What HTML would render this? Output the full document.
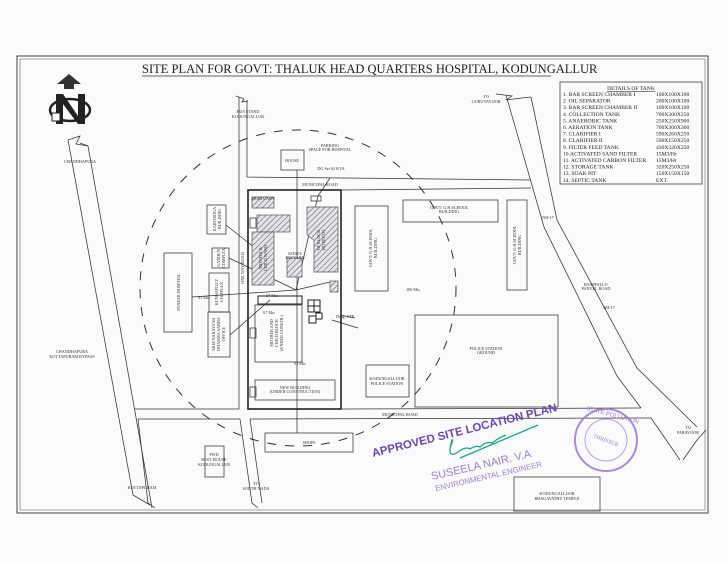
<!DOCTYPE html>
<html><head><meta charset="utf-8"><style>
html,body{margin:0;padding:0;background:#fbfafd;}
svg{display:block;font-family:"Liberation Serif",serif;}
</style></head><body>
<svg width="728" height="563" viewBox="0 0 728 563" xmlns="http://www.w3.org/2000/svg">
<defs>
<pattern id="h" width="4" height="4" patternUnits="userSpaceOnUse" patternTransform="rotate(45)">
<rect width="4" height="4" fill="#e4e4e8"/><line x1="0" y1="0" x2="0" y2="4" stroke="#666" stroke-width="1.2"/></pattern>
</defs>
<rect width="728" height="563" fill="#fbfafd"/>
<rect x="17" y="56" width="691" height="457" fill="none" stroke="#444" stroke-width="1"/>
<rect x="20" y="59" width="685" height="451" fill="none" stroke="#666" stroke-width="0.6"/>
<text x="142" y="73" font-size="12.5" fill="#222">SITE PLAN FOR GOVT: THALUK HEAD QUARTERS HOSPITAL, KODUNGALLUR</text>
<line x1="142" y1="76" x2="551" y2="76" stroke="#333" stroke-width="0.8"/>
<polygon points="69,74 57,84 64,84 64,89 74,89 74,84 81,84" fill="#333"/>
<ellipse cx="70" cy="110" rx="20" ry="11" fill="none" stroke="#222" stroke-width="2.5"/>
<polygon points="56,94 63,94 78,116 78,94 85,94 85,124 78,124 63,104 63,124 56,124" fill="#222"/>
<rect x="52" y="113" width="8" height="8" fill="#fff" stroke="#222"/>
<circle cx="298" cy="288" r="158" fill="none" stroke="#333" stroke-width="1" stroke-dasharray="9,9"/>
<g fill="none" stroke="#333" stroke-width="0.75">
<polyline points="68,140 133,495 150,505"/>
<polyline points="80,143 88,146 152,508"/>
<polyline points="68,140 80,136 76,144 88,146"/>
<polyline points="239,97 239,409 135,409"/>
<polyline points="247,100 247,177 530,180"/>
<polyline points="236,96 244,99 242,102 248,101"/>
<polyline points="250,190 340,190"/>
<polyline points="342,190 531,188"/>
<polyline points="138,419 148,503 155,508"/>
<polyline points="240,419 252,503 258,508"/>
<polyline points="250,419 262,503"/>
<polyline points="138,419 240,419"/>
<polyline points="250,419 651,418 680,460"/>
<polyline points="342,409 641,408"/>
<polyline points="506,95 544,227 617,376 641,408"/>
<polyline points="531,97 557,220 637,368 697,427"/>
<polyline points="496,94 512,96 506,100 522,98 531,97"/>
<polyline points="683,460 697,440 706,430"/>
<rect x="281" y="150" width="23" height="20"/>
<rect x="355" y="206" width="33" height="85"/>
<rect x="403" y="200" width="95" height="22"/>
<rect x="507" y="200" width="20" height="90"/>
<rect x="415" y="315" width="143" height="92"/>
<rect x="366" y="365" width="43" height="32"/>
<rect x="514" y="477" width="86" height="34"/>
<rect x="265" y="433" width="88" height="19"/>
<rect x="205" y="446" width="19" height="31"/>
<rect x="164" y="253" width="28" height="79"/>
<rect x="207" y="205" width="19" height="29"/>
<rect x="212" y="248" width="17" height="20"/>
<rect x="209" y="273" width="20" height="39"/>
<rect x="208" y="312" width="22" height="45"/>
<rect x="560" y="82" width="142" height="102"/>
<rect x="255" y="305" width="47" height="57"/>
<rect x="255" y="380" width="80" height="20"/>
<rect x="250" y="218" width="6" height="10"/>
<rect x="250" y="328" width="6" height="10"/>
<rect x="250" y="387" width="6" height="10"/>
<rect x="311" y="196" width="10" height="5"/>
<line x1="226" y1="225" x2="270" y2="260"/>
<line x1="229" y1="258" x2="296" y2="290"/>
<line x1="192" y1="297" x2="296" y2="290"/>
<line x1="230" y1="335" x2="270" y2="300"/>
<line x1="297" y1="170" x2="297" y2="433"/>
<line x1="296" y1="290" x2="318" y2="196"/>
<line x1="296" y1="290" x2="330" y2="282"/>
<line x1="340" y1="315" x2="355" y2="318"/>
<line x1="332" y1="320" x2="358" y2="328"/>
<line x1="318" y1="196" x2="330" y2="178"/>
</g>
<rect x="248" y="190" width="93" height="219" fill="none" stroke="#222" stroke-width="1.6"/>
<g stroke="#555" stroke-width="0.7">
<rect x="252" y="197" width="22" height="11" fill="url(#h)"/>
<rect x="257" y="215" width="33" height="17" fill="url(#h)"/>
<rect x="252" y="232" width="22" height="53" fill="url(#h)"/>
<rect x="287" y="258" width="15" height="19" fill="url(#h)"/>
<polygon points="307,207 338,207 338,272 314,272 314,240 307,235" fill="url(#h)"/>
<rect x="330" y="281" width="8" height="11" fill="url(#h)"/>
</g>
<g fill="none" stroke="#222" stroke-width="1">
<rect x="308" y="300" width="6" height="6"/><rect x="314" y="300" width="6" height="6"/>
<rect x="308" y="306" width="6" height="6"/><rect x="314" y="306" width="6" height="6"/>
<rect x="309" y="316" width="7" height="7"/><rect x="316" y="313" width="6" height="6"/>
<rect x="258" y="296" width="44" height="8"/>
</g>
<g font-size="4.2" fill="#333" text-anchor="middle">
<text x="248" y="113">BUS STAND</text><text x="248" y="118">KODUNGALLUR</text>
<text x="80" y="163">CHANDHAPURA</text>
<text x="330" y="147">PARKING</text><text x="330" y="151">SPACE FOR HOSPITAL</text>
<text x="331" y="170">DG Set 62 KVA</text>
<text x="292" y="162">HOUSE</text>
<text x="320" y="186">MUNICIPAL ROAD</text>
<text x="263" y="200">MORTUARY</text>
<text x="295" y="255">KIDN'S</text><text x="295" y="259">PAYYARD</text>
<text x="449" y="209">GOVT: G.H.SCHOOL</text><text x="449" y="213">BUILDING</text>
<text x="486" y="98">TO</text><text x="486" y="103">GURUVAYOOR</text>
<text x="548" y="219">NH-17</text>
<text x="596" y="286">EDAPPALLY-</text><text x="596" y="290">PANVEL ROAD</text>
<text x="609" y="309">NH-17</text>
<text x="413" y="291">180 Mts</text>
<text x="486" y="350">POLICE STATION</text><text x="486" y="354">GROUND</text>
<text x="387" y="380">KODUNGALLOOR</text><text x="387" y="385">POLICE STATION</text>
<text x="295" y="389">NEW BUILDING</text><text x="295" y="393">(UNDER CONSTRUCTION)</text>
<text x="400" y="416">MUNICIPAL ROAD</text>
<text x="309" y="444">SHOPS</text>
<text x="214" y="456">PWD</text><text x="214" y="461">REST HOUSE</text><text x="214" y="466">KODUNGALLUR</text>
<text x="142" y="489">KOTTAPURAM</text>
<text x="256" y="485">TO</text><text x="256" y="490">SOUTH NADA</text>
<text x="557" y="495">KODUNGALLOOR</text><text x="557" y="500">BHAGAVATHY TEMPLE</text>
<text x="688" y="429">TO</text><text x="688" y="434">PARAVOOR</text>
<text x="72" y="353">CHANDHAPURA</text><text x="72" y="358">KOTTAPURAM BYPASS</text>
<text x="204" y="299">81 Mts</text>
<text x="272" y="297">57 Mts</text>
<text x="269" y="314">67 Mts</text>
<text x="300" y="365">95 Mts</text>
<text x="345" y="318">Drug. STP</text>
</g>
<g font-size="4.2" fill="#333" text-anchor="middle">
<text transform="translate(180,292) rotate(-90)">PANKER HOSPITAL</text>
<text transform="translate(216,219) rotate(-90)">KARTIROGA</text><text transform="translate(221,219) rotate(-90)">BUILDING</text>
<text transform="translate(220,258) rotate(-90)">GARDEN</text><text transform="translate(225,258) rotate(-90)">COMPLEX</text>
<text transform="translate(218,292) rotate(-90)">KUNNAPILLY</text><text transform="translate(223,292) rotate(-90)">COMPLEX</text>
<text transform="translate(215,334) rotate(-90)">SREENARAYANA</text><text transform="translate(220,334) rotate(-90)">DHARMA SABHA</text><text transform="translate(225,334) rotate(-90)">OFFICE</text>
<text transform="translate(244,268) rotate(-90)">ONE WAY ROAD</text>
<text transform="translate(262,258) rotate(-90)">MOTHER &amp;</text><text transform="translate(267,258) rotate(-90)">CHILD WARD</text>
<text transform="translate(320,240) rotate(-90)">OP BLOCK</text><text transform="translate(325,240) rotate(-90)">(N) PECTO</text>
<text transform="translate(372,248) rotate(-90)">GOVT: G.H.SCHOOL</text><text transform="translate(377,248) rotate(-90)">BUILDING</text>
<text transform="translate(516,245) rotate(-90)">GOVT: G.H.SCHOOL</text><text transform="translate(521,245) rotate(-90)">BUILDING</text>
<text transform="translate(273,333) rotate(-90)">MOTHER AND</text><text transform="translate(278,333) rotate(-90)">CHILD BLOCK</text><text transform="translate(283,333) rotate(-90)">(UNDER CONSTR.)</text>
</g>
<g font-size="5.6" fill="#222">
<text x="631" y="90" text-anchor="middle" text-decoration="underline">DETAILS OF TANK</text>
<text x="563" y="96">1. BAR SCREEN CHAMBER I</text><text x="656" y="96">100X100X100</text>
<text x="563" y="102.6">2. OIL SEPARATOR</text><text x="656" y="102.6">200X100X100</text>
<text x="563" y="109.2">3. BAR SCREEN CHAMBER II</text><text x="656" y="109.2">100X100X100</text>
<text x="563" y="115.8">4. COLLECTION TANK</text><text x="656" y="115.8">700X300X250</text>
<text x="563" y="122.4">5. ANAEROBIC TANK</text><text x="656" y="122.4">250X250X900</text>
<text x="563" y="129">6. AERATION TANK</text><text x="656" y="129">700X300X300</text>
<text x="563" y="135.6">7. CLARIFIER I</text><text x="656" y="135.6">590X260X250</text>
<text x="563" y="142.2">8. CLARIFIER II</text><text x="656" y="142.2">590X150X250</text>
<text x="563" y="148.8">9. FILTER FEED TANK</text><text x="656" y="148.8">430X320X250</text>
<text x="563" y="155.4">10.ACTIVATED SAND FILTER</text><text x="656" y="155.4">15M3/Hr</text>
<text x="563" y="162">11. ACTIVATED CARBON FILTER</text><text x="656" y="162">15M3/Hr</text>
<text x="563" y="168.6">12. STORAGE TANK</text><text x="656" y="168.6">320X250X250</text>
<text x="563" y="175.2">13. SOAK PIT</text><text x="656" y="175.2">150X150X150</text>
<text x="563" y="181.8">14. SEPTIC TANK</text><text x="656" y="181.8">EXT.</text>
</g>
<g font-family="Liberation Sans, sans-serif" fill="#7a4fc0">
<text transform="translate(373,457) rotate(-14)" font-size="11.5" font-weight="bold" fill="#6a48b8">APPROVED SITE LOCATION PLAN</text>
<text transform="translate(432,480) rotate(-13)" font-size="11" fill="#9a80cf">SUSEELA NAIR. V.A</text>
<text transform="translate(436,491) rotate(-13)" font-size="7.8" fill="#9a80cf">ENVIRONMENTAL ENGINEER</text>
</g>
<path d="M450 448 q4 -10 2 -8 q-6 20 6 12 q8 -6 12 -3 q6 -4 10 -2 q6 -6 12 -4 q8 -6 14 -8 M460 458 L538 425" fill="none" stroke="#1aa58a" stroke-width="1.3"/>
<circle cx="606" cy="440" r="31" fill="none" stroke="#a98ad8" stroke-width="2"/>
<circle cx="606" cy="440" r="21" fill="none" stroke="#b9a0e0" stroke-width="1"/>
<text x="606" y="442" font-size="5.5" fill="#9a7ed0" text-anchor="middle" transform="rotate(20 606 440)">THRISSUR</text>
<text x="606" y="416" font-size="6" fill="#9a7ed0" text-anchor="middle" font-family="Liberation Sans,sans-serif" transform="rotate(15 606 440)">STATE POLLUTION</text>
</svg>
</body></html>
